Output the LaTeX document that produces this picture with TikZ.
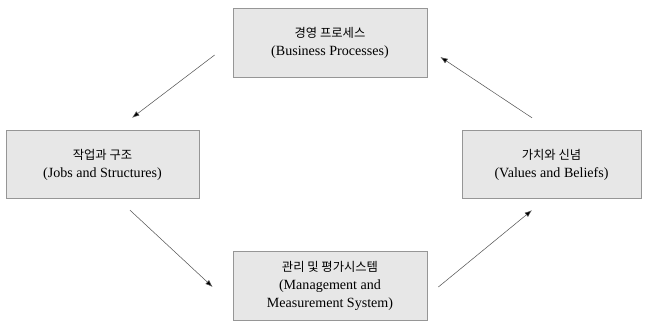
\documentclass[tikz,border=0pt]{standalone}
\usepackage{fontspec}
\setmainfont{Liberation Serif}
\newfontfamily\kr{Noto Sans CJK KR}
\usepackage{tikz}
\usetikzlibrary{arrows.meta, positioning, calc}
\definecolor{kotakAbu}{RGB}{231,231,231}
\definecolor{garisAbu}{RGB}{150,150,150}
\definecolor{panahAbu}{RGB}{85,85,85}
\newcommand{\judulkr}[1]{{\kr\fontsize{10.5}{15.5}\selectfont #1}}

\begin{document}
\begin{tikzpicture}[x=0.03cm, y=-0.03cm,
  kotak/.style={draw=garisAbu, fill=kotakAbu, line width=0.6pt, align=center,
    minimum height=2.06cm, font=\fontsize{12}{15.5}\selectfont},
  panah/.style={draw=panahAbu, line width=0.45pt, -{Latex[length=2.2mm, width=1.6mm, fill=black]}},
]
  \useasboundingbox (0,0) rectangle (646,321);

  \node[kotak, minimum width=5.82cm] at (330,43) (bp) {\judulkr{경영 프로세스}\\(Business Processes)};
  \node[kotak, minimum width=5.79cm] at (102.5,164.5) (js) {\judulkr{작업과 구조}\\(Jobs and Structures)};
  \node[kotak, minimum width=5.37cm] at (551.5,164.5) (vb) {\judulkr{가치와 신념}\\(Values and Beliefs)};
  \node[kotak, minimum width=5.82cm] at (330,286) (ms) {\judulkr{관리 및 평가시스템}\\(Management and\\Measurement System)};

  \draw[panah] ($(bp.west)+(-18,12)$) -- ($(js.north)+(29.5,-12)$);
  \draw[panah] ($(js.south)+(27.5,11)$) -- ($(ms.west)+(-20,1)$);
  \draw[panah] ($(ms.east)+(11,1)$) -- ($(vb.south)+(-19.5,11)$);
  \draw[panah] ($(vb.north)+(-19.5,-12)$) -- ($(bp.east)+(13,14)$);
\end{tikzpicture}
\end{document}
